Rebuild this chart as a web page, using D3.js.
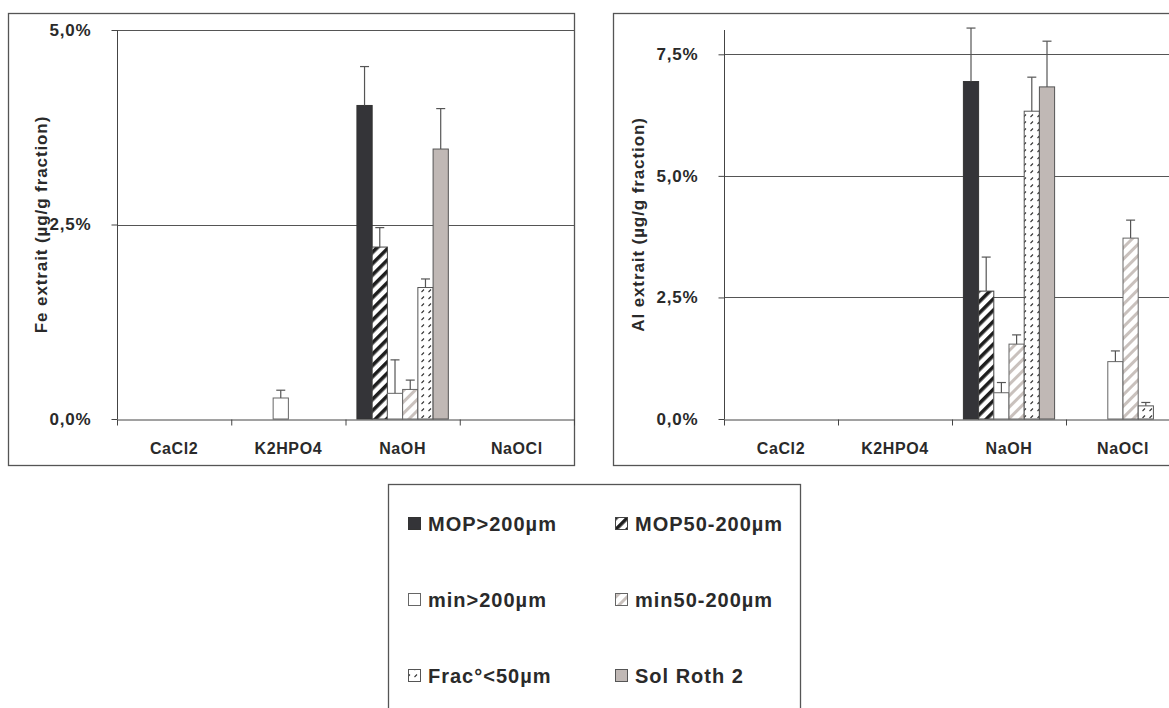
<!DOCTYPE html>
<html><head><meta charset="utf-8">
<script src="https://cdn.jsdelivr.net/npm/d3@7"></script>
<style>
body{margin:0;background:#fff;}
svg text{font-family:"Liberation Sans",Arial,sans-serif;font-weight:bold;fill:#2a2a2a;}
</style></head><body>
<svg id="c" width="1169" height="708"></svg>
<script>
// ---------- data ----------
const categories = ["CaCl2", "K2HPO4", "NaOH", "NaOCl"];
const seriesNames = ["MOP>200µm", "MOP50-200µm", "min>200µm", "min50-200µm", "Frac°<50µm", "Sol Roth 2"];

// Fe extrait (%)
const feMop200 = [0, 0, 4.03, 0];    const feMop200Err = [0, 0, 0.50, 0];
const feMop50  = [0, 0, 2.21, 0];    const feMop50Err  = [0, 0, 0.25, 0];
const feMin200 = [0, 0.27, 0.33, 0]; const feMin200Err = [0, 0.10, 0.43, 0];
const feMin50  = [0, 0, 0.38, 0];    const feMin50Err  = [0, 0, 0.12, 0];
const feFrac   = [0, 0, 1.69, 0];    const feFracErr   = [0, 0, 0.11, 0];
const feSol    = [0, 0, 3.47, 0];    const feSolErr    = [0, 0, 0.52, 0];

// Al extrait (%)
const alMop200 = [0, 0, 6.94, 0];    const alMop200Err = [0, 0, 1.10, 0];
const alMop50  = [0, 0, 2.63, 0];    const alMop50Err  = [0, 0, 0.70, 0];
const alMin200 = [0, 0, 0.54, 1.18]; const alMin200Err = [0, 0, 0.21, 0.22];
const alMin50  = [0, 0, 1.54, 3.72]; const alMin50Err  = [0, 0, 0.19, 0.37];
const alFrac   = [0, 0, 6.33, 0.27]; const alFracErr   = [0, 0, 0.70, 0.07];
const alSol    = [0, 0, 6.83, 0];    const alSolErr    = [0, 0, 0.94, 0];

const feTicks = [0, 2.5, 5.0];
const alTicks = [0, 2.5, 5.0, 7.5];
const feMax = 5.0;
const alMax = 8.0;

const feTitle = "Fe extrait (µg/g fraction)";
const alTitle = "Al extrait (µg/g fraction)";

// ---------- drawing ----------
const svg = d3.select("#c");
const defs = svg.append("defs");

function stripe(id, color, w) {
  const p = defs.append("pattern").attr("id", id).attr("patternUnits", "userSpaceOnUse")
    .attr("width", 8).attr("height", 8).attr("patternTransform", "rotate(45)");
  p.append("rect").attr("width", 8).attr("height", 8).attr("fill", "#fff");
  p.append("rect").attr("x", 0).attr("width", w).attr("height", 8).attr("fill", color);
}
stripe("pMop50", "#1e1e1e", 3.6);
stripe("pMin50", "#c9c1bd", 3.0);
(function () {
  const p = defs.append("pattern").attr("id", "pFrac").attr("patternUnits", "userSpaceOnUse")
    .attr("width", 7).attr("height", 7);
  p.append("rect").attr("width", 7).attr("height", 7).attr("fill", "#fff");
  p.append("line").attr("x1", 1.5).attr("y1", 5).attr("x2", 4).attr("y2", 2.5)
    .attr("stroke", "#333").attr("stroke-width", 1.1);
})();

const fills = ["#343438", "url(#pMop50)", "#ffffff", "url(#pMin50)", "url(#pFrac)", "#c0b8b5"];
const strokes = ["#333", "#444", "#666", "#666", "#555", "#555"];

const fmt = v => d3.format(".1f")(v).replace(".", ",") + "%";

function drawChart(cfg) {
  const g = svg.append("g");
  // frame
  g.append("rect").attr("x", cfg.frame[0] + 0.5).attr("y", cfg.frame[1] + 0.5)
    .attr("width", cfg.frame[2]).attr("height", cfg.frame[3])
    .attr("fill", "none").attr("stroke", "#555").attr("stroke-width", 1.3);

  const y = d3.scaleLinear().domain([0, cfg.max]).range([cfg.y0, cfg.y1]);
  const x = d3.scaleBand().domain(categories).range([cfg.x0, cfg.x1]).paddingInner(0).paddingOuter(0);
  const xs = d3.scaleBand().domain(seriesNames).range([0, x.bandwidth()]).paddingInner(0).paddingOuter(0.75);
  const xb = d3.scaleLinear().domain([0, categories.length]).range([cfg.x0, cfg.x1]);

  // gridlines
  g.append("g").selectAll("line").data(cfg.ticks.filter(t => t > 0)).join("line")
    .attr("x1", cfg.x0).attr("x2", cfg.x1)
    .attr("y1", d => Math.round(y(d)) + 0.5).attr("y2", d => Math.round(y(d)) + 0.5)
    .attr("stroke", "#555").attr("stroke-width", 1);

  // bars
  cfg.series.forEach((s, si) => {
    const bg = g.append("g");
    bg.selectAll("rect").data(s.values).join("rect")
      .attr("x", (d, i) => x(categories[i]) + xs(seriesNames[si]))
      .attr("y", d => y(d))
      .attr("width", xs.bandwidth())
      .attr("height", d => y(0) - y(d))
      .attr("fill", fills[si]).attr("stroke", strokes[si]).attr("stroke-width", 1);
    // error bars
    const eg = g.append("g");
    s.values.forEach((v, i) => {
      const e = s.err[i];
      if (!e) return;
      const cx = x(categories[i]) + xs(seriesNames[si]) + xs.bandwidth() / 2;
      eg.append("line").attr("x1", cx).attr("x2", cx).attr("y1", y(v)).attr("y2", y(v + e))
        .attr("stroke", "#555").attr("stroke-width", 1.2);
      eg.append("line").attr("x1", cx - 4.5).attr("x2", cx + 4.5).attr("y1", y(v + e)).attr("y2", y(v + e))
        .attr("stroke", "#555").attr("stroke-width", 1.2);
    });
  });

  // y axis
  const ya = g.append("g").attr("transform", `translate(${cfg.x0 + 0.5},0)`)
    .call(d3.axisLeft(y).tickValues(cfg.ticks).tickFormat(fmt).tickSize(6).tickPadding(20).tickSizeOuter(0));
  ya.select(".domain").attr("stroke", "#444");
  ya.selectAll(".tick line").attr("stroke", "#444");
  ya.selectAll("text").attr("font-size", 17).attr("letter-spacing", "0.8px")
    .attr("font-family", "Liberation Sans, Arial, sans-serif").attr("font-weight", "bold").attr("fill", "#2a2a2a");
  ya.select(".domain").attr("d", `M0,${cfg.y1}V${cfg.y0}`);

  // x axis
  const xa = g.append("g").attr("transform", `translate(0,${cfg.y0 + 0.5})`)
    .call(d3.axisBottom(xb).tickValues(d3.range(categories.length + 1)).tickFormat("").tickSize(6).tickSizeOuter(0));
  xa.select(".domain").attr("stroke", "#444");
  xa.selectAll(".tick line").attr("stroke", "#444");

  g.append("g").selectAll("text").data(categories).join("text")
    .attr("x", d => x(d) + x.bandwidth() / 2).attr("y", cfg.y0 + 35)
    .attr("text-anchor", "middle").attr("font-size", 16).attr("letter-spacing", "0.6px")
    .text(d => d);

  // y title
  g.append("text").attr("transform", `translate(${cfg.titleX},${(cfg.y0 + cfg.y1) / 2}) rotate(-90)`)
    .attr("text-anchor", "middle").attr("dominant-baseline", "central")
    .attr("font-size", 17).attr("letter-spacing", "0.9px").text(cfg.title);
}

drawChart({
  frame: [8, 13, 566, 452], x0: 117, x1: 574, y0: 419, y1: 30, max: feMax, ticks: feTicks,
  title: feTitle, titleX: 41,
  series: [
    { values: feMop200, err: feMop200Err }, { values: feMop50, err: feMop50Err },
    { values: feMin200, err: feMin200Err }, { values: feMin50, err: feMin50Err },
    { values: feFrac, err: feFracErr }, { values: feSol, err: feSolErr }
  ]
});
drawChart({
  frame: [613, 13, 620, 452], x0: 724, x1: 1180, y0: 419, y1: 30, max: alMax, ticks: alTicks,
  title: alTitle, titleX: 638,
  series: [
    { values: alMop200, err: alMop200Err }, { values: alMop50, err: alMop50Err },
    { values: alMin200, err: alMin200Err }, { values: alMin50, err: alMin50Err },
    { values: alFrac, err: alFracErr }, { values: alSol, err: alSolErr }
  ]
});

// legend
const lg = svg.append("g");
lg.append("rect").attr("x", 388.5).attr("y", 484.5).attr("width", 412).attr("height", 260)
  .attr("fill", "#fff").attr("stroke", "#555").attr("stroke-width", 1.3);
const legCols = [408, 615];
const legRows = [524, 600, 676];
seriesNames.forEach((n, i) => {
  const cx = legCols[i % 2], cy = legRows[Math.floor(i / 2)];
  lg.append("rect").attr("x", cx + 0.5).attr("y", cy - 6.5).attr("width", 12).attr("height", 12)
    .attr("fill", fills[i]).attr("stroke", strokes[i]).attr("stroke-width", 1);
  lg.append("text").attr("x", cx + 20).attr("y", cy).attr("dominant-baseline", "central")
    .attr("font-size", 20).attr("letter-spacing", "1px").text(n);
});
</script>
</body></html>
